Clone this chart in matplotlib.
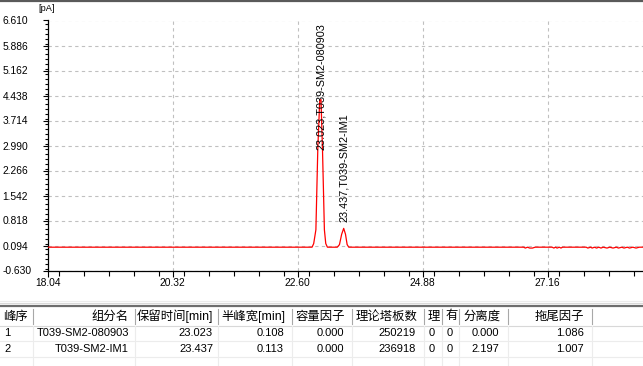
import matplotlib
matplotlib.use("Agg")
import matplotlib.pyplot as plt
from matplotlib.ticker import MultipleLocator, FixedLocator

# ---------------- data ----------------
time_min = [18.04, 22.86, 22.89, 22.93, 22.965, 23.00, 23.023, 23.05, 23.085, 23.11, 23.14,
            23.32, 23.36, 23.40, 23.437, 23.47, 23.50, 23.53,
            26.72, 26.75, 26.79, 26.83, 26.88, 26.93, 27.24, 27.27, 27.30, 27.33, 27.37,
            27.40, 27.43, 27.86, 27.89, 27.94, 27.97, 28.01, 28.05, 28.09, 28.13, 28.17,
            28.24, 28.29, 28.35, 28.41, 28.45, 28.51, 28.55, 28.61, 28.65, 28.71, 28.77,
            28.83, 28.90]
signal_pa = [0.045, 0.045, 0.15, 0.55, 2.90, 4.30, 4.32, 2.90, 0.55, 0.15, 0.045,
             0.045, 0.12, 0.42, 0.59, 0.42, 0.12, 0.045,
             0.045, 0.02, 0.045, 0.02, 0.02, 0.045, 0.045, 0.02, 0.045, 0.02, 0.045,
             0.02, 0.045, 0.045, 0.02, 0.045, 0.02, 0.045, 0.02, 0.045, 0.02, 0.045,
             0.02, 0.045, 0.02, 0.045, 0.02, 0.045, 0.02, 0.045, 0.02, 0.045, 0.02,
             0.045, 0.045]

x_ticks = [18.04, 20.32, 22.60, 24.88, 27.16]
y_ticks = [-0.630, 0.094, 0.818, 1.542, 2.266, 2.990, 3.714, 4.438, 5.162, 5.886, 6.610]
y_unit = "[pA]"

peak_times = [23.023, 23.437]
peak_names = ["T039-SM2-080903", "T039-SM2-IM1"]
label_heights = [2.86, 0.78]

table_headers = ["峰序", "组分名", "保留时间[min]", "半峰宽[min]", "容量因子", "理论塔板数",
                 "理", "有", "分离度", "拖尾因子"]
peak_no = ["1", "2"]
ret_time = ["23.023", "23.437"]
half_width = ["0.108", "0.113"]
capacity = ["0.000", "0.000"]
plates = ["250219", "236918"]
col_li = ["0", "0"]
col_you = ["0", "0"]
resolution = ["0.000", "2.197"]
tailing = ["1.086", "1.007"]

# ---------------- figure ----------------
W, H = 643, 366
fig = plt.figure(figsize=(W / 100, H / 100), dpi=100)
fig.patch.set_facecolor("white")

ax_left_px, ax_top_px, ax_bot_px = 47.8, 20.5, 270.5
ax = fig.add_axes([ax_left_px / W, (H - ax_bot_px) / H,
                   (W - ax_left_px) / W, (ax_bot_px - ax_top_px) / H])
x_max = 18.04 + (W - ax_left_px) / 125.0 * 2.28
ax.set_xlim(18.04, x_max)
ax.set_ylim(-0.630, 6.610)

ax.plot(time_min, signal_pa, color="#ff0000", lw=0.9, zorder=3)

for s in ["top", "right"]:
    ax.spines[s].set_visible(False)
for s in ["left", "bottom"]:
    ax.spines[s].set_linewidth(0.9)
    ax.spines[s].set_color("black")

ax.xaxis.set_major_locator(FixedLocator(x_ticks))
ax.xaxis.set_minor_locator(MultipleLocator(0.456))
ax.yaxis.set_major_locator(FixedLocator(y_ticks))
ax.yaxis.set_minor_locator(MultipleLocator(0.1448))
ax.set_xticklabels([f"{v:.2f}" for v in x_ticks])
ax.set_yticklabels([f"{v:.3f}" for v in y_ticks])

ax.tick_params(axis="x", which="major", length=4, width=0.8, pad=1.5,
               labelsize=7.4)
ax.tick_params(axis="x", which="minor", length=3.5, width=0.8)
ax.tick_params(axis="y", which="major", length=3.6, width=0.8, pad=29,
               labelsize=7.4)
ax.tick_params(axis="y", which="minor", length=2.2, width=0.8)
for lab in ax.get_yticklabels():
    lab.set_horizontalalignment("left")
    lab.set_family("Liberation Sans")
for lab in ax.get_xticklabels():
    lab.set_family("Liberation Sans")

ax.grid(True, which="major", color="#c0c0c0", linestyle=(0, (3, 3)), lw=0.8)
ax.set_axisbelow(True)

for t, n, h in zip(peak_times, peak_names, label_heights):
    ax.text(t, h, f"{t:.3f},{n}", rotation=90, ha="center", va="bottom",
            fontsize=7.8, family="Liberation Sans", color="black", zorder=4)

# ---------------- overlay (pixel coords) ----------------
ov = fig.add_axes([0, 0, 1, 1], zorder=5)
ov.set_xlim(0, W)
ov.set_ylim(H, 0)
ov.axis("off")

ov.plot([0, W], [0.8, 0.8], color="#5a5a5a", lw=1.6)
ov.text(38, 8.5, y_unit, fontsize=6.6, family="Liberation Sans",
        va="center", ha="left")

# table frame
ov.plot([0, W], [300.5, 300.5], color="#ececec", lw=0.8)
ov.plot([0, W], [303.0, 303.0], color="#dadada", lw=0.8)
ov.plot([0, W], [306.0, 306.0], color="#6e6e6e", lw=1.6)
ov.plot([0, W], [325.5, 325.5], color="#d8d8d8", lw=0.8)
ov.plot([0, W], [341.0, 341.0], color="#ececec", lw=0.8)
ov.plot([0, W], [356.5, 356.5], color="#ececec", lw=0.8)

seps = [33, 135, 218, 292, 352, 424, 442, 459, 508, 592]
for s in seps:
    ov.plot([s, s], [309, 324], color="#a8a8a8", lw=0.8)
    ov.plot([s, s], [326, 366], color="#ececec", lw=0.8)

cjk = ["Liberation Sans", "Noto Sans CJK SC"]
hdr_y = 316.5
hdr_pos = [(3, "left"), (129, "right"), (213, "right"), (285, "right"),
           (345, "right"), (417, "right"), (428, "left"), (446, "left"),
           (464, "left"), (584, "right")]
for txt, (x, ha) in zip(table_headers, hdr_pos):
    ov.text(x, hdr_y, txt, fontsize=8.9, family=cjk, ha=ha, va="center")

row_y = [333.0, 348.5]
cols = [(peak_no, 4, "left"), (peak_names, 129, "right"), (ret_time, 213, "right"),
        (half_width, 284, "right"), (capacity, 344, "right"), (plates, 416, "right"),
        (col_li, 429, "left"), (col_you, 447, "left"), (resolution, 499, "right"),
        (tailing, 584, "right")]
for vals, x, ha in cols:
    for v, y in zip(vals, row_y):
        ov.text(x, y, v, fontsize=8.0, family="Liberation Sans", ha=ha, va="center")

fig.savefig("out.png", dpi=100)
